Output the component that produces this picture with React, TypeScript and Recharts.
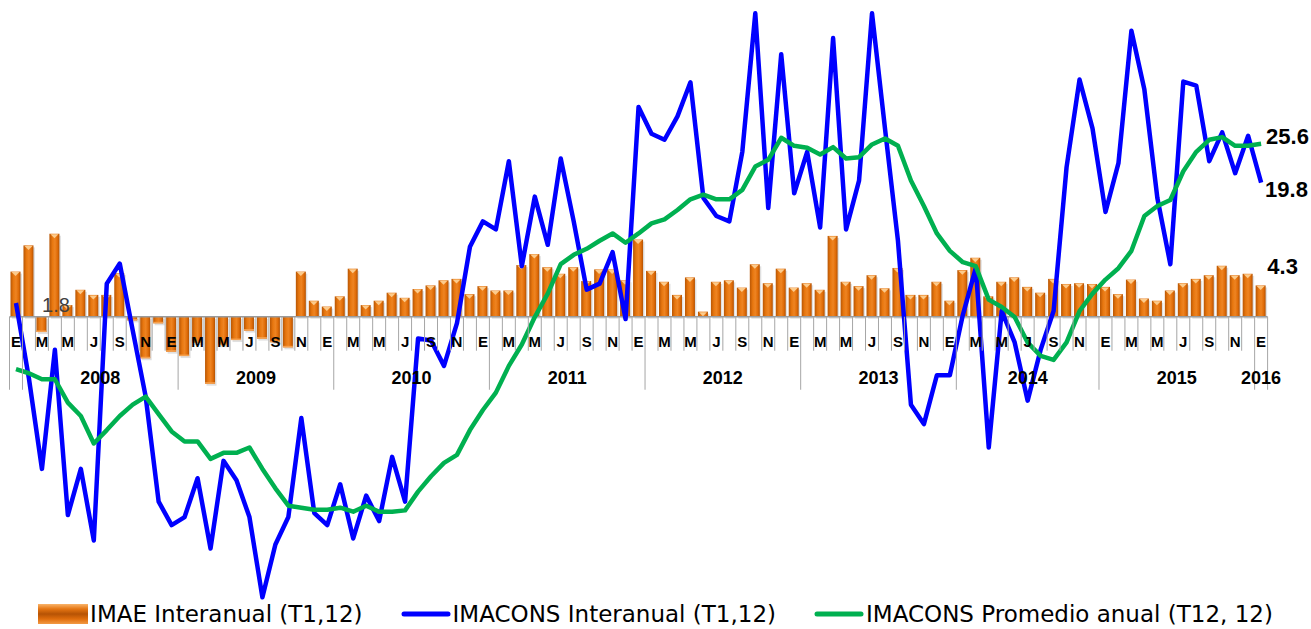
import React from 'react';
import { ComposedChart, Bar, Line, XAxis, YAxis, ReferenceLine, Legend } from 'recharts';

// ---------------- DATA ----------------
const monthLetters = ['E', 'F', 'M', 'A', 'M', 'J', 'J', 'A', 'S', 'O', 'N', 'D'];
// year group labels and the month index where each group starts (Jan 2008 = 0)
const yearGroupLabels = ['', '2008', '2009', '2010', '2011', '2012', '2013', '2014', '2015', '2016'];
const yearGroupStarts = [0, 1, 13, 25, 37, 49, 61, 73, 84, 96];

const seriesNames = ['IMAE Interanual (T1,12)', 'IMACONS Interanual (T1,12)', 'IMACONS Promedio anual (T12, 12)'];

const imaeInteranual = [
  6.2, 9.8, -2.1, 11.4, 1.6, 3.7, 3.0, 3.0, 6.0, -0.5, -5.7, -0.9,
  -4.8, -5.4, -3.6, -9.2, -3.9, -3.2, -1.9, -3.0, -3.5, -4.2, 6.2, 2.2,
  1.4, 2.8, 6.6, 1.6, 2.2, 3.3, 2.6, 3.8, 4.3, 5.0, 5.2, 3.1,
  4.2, 3.6, 3.6, 7.1, 8.6, 6.8, 5.9, 6.8, 4.9, 6.5, 6.5, 5.0,
  10.6, 6.3, 4.8, 3.0, 5.4, 0.7, 4.8, 5.0, 4.0, 7.2, 4.6, 6.6,
  4.0, 4.6, 3.7, 11.1, 4.8, 4.2, 5.7, 3.9, 6.7, 3.0, 3.0, 4.8,
  2.2, 6.4, 8.1, 2.8, 4.8, 5.4, 4.1, 3.3, 5.2, 4.5, 4.6, 4.5,
  4.1, 3.1, 5.1, 2.5, 2.2, 3.6, 4.6, 5.2, 5.7, 7.0, 5.7, 5.9,
  4.3,
];

const imaconsInteranual = [
  1.8, -9.5, -23.0, -5.2, -29.9, -23.0, -33.7, 4.7, 7.7, -2.3, -12.2, -27.9,
  -31.4, -30.2, -24.4, -34.9, -21.8, -24.7, -30.2, -42.2, -34.3, -30.2, -15.4, -29.6,
  -31.4, -25.3, -33.4, -27.0, -30.8, -21.2, -27.9, -3.5, -3.8, -7.6, -1.2, 10.2,
  14.0, 12.8, 23.0, 7.3, 17.7, 10.5, 23.4, 14.0, 3.8, 4.7, 9.4, -0.6,
  31.1, 27.1, 26.2, 29.7, 34.8, 17.5, 14.8, 14.0, 24.4, 45.1, 16.0, 39.0,
  18.2, 24.4, 13.1, 41.4, 12.8, 20.1, 45.1, 27.9, 11.1, -13.4, -16.3, -9.0,
  -9.0, 0.0, 7.0, -19.8, 0.6, -4.1, -12.8, -5.2, 0.6, 22.1, 35.2, 27.9,
  15.4, 22.7, 42.5, 33.7, 17.5, 7.6, 34.9, 34.3, 23.0, 27.3, 21.2, 26.8,
  19.8,
];

const imaconsPromedio = [
  -8.1, -8.7, -9.6, -9.6, -13.1, -15.1, -19.2, -17.2, -15.1, -13.4, -12.2, -14.8,
  -17.4, -18.9, -18.9, -21.5, -20.6, -20.6, -19.8, -23.0, -25.9, -28.5, -28.8, -29.1,
  -29.1, -28.8, -29.4, -28.5, -29.4, -29.4, -29.2, -26.4, -24.1, -22.1, -20.9, -17.2,
  -14.2, -11.6, -7.6, -4.4, -0.3, 3.2, 7.6, 9.0, 9.9, 11.1, 12.2, 10.8,
  12.2, 13.7, 14.3, 15.7, 17.3, 18.0, 17.3, 17.3, 18.7, 22.2, 23.2, 26.5,
  25.3, 25.0, 24.0, 25.1, 23.4, 23.6, 25.5, 26.4, 25.3, 20.1, 16.3, 12.2,
  9.6, 7.9, 7.3, 2.3, 1.2, -0.3, -4.1, -6.1, -6.7, -4.1, 0.6, 3.2,
  5.3, 7.0, 9.6, 14.8, 16.3, 17.2, 21.5, 24.4, 26.2, 26.6, 25.3, 25.3,
  25.6,
];

const data = imaeInteranual.map((v, i) => ({
  idx: i,
  imae: v,
  blue: imaconsInteranual[i],
  green: imaconsPromedio[i],
}));

// ---------------- LAYOUT ----------------
const W = 1311;
const H = 629;
const M_LEFT = 9.5;
const M_RIGHT = 43.4;
const M_TOP = 8;
const M_BOTTOM = 28;
const X_AXIS_H = 1;
const PLOT_TOP = M_TOP;
const PLOT_BOTTOM = H - M_BOTTOM - X_AXIS_H;
const BAND = (W - M_LEFT - M_RIGHT) / data.length;
const BAR_DOMAIN: [number, number] = [-38.9, 42.4];
const LINE_DOMAIN: [number, number] = [-42.6, 45.9];
const ZERO_Y = PLOT_TOP + (BAR_DOMAIN[1] / (BAR_DOMAIN[1] - BAR_DOMAIN[0])) * (PLOT_BOTTOM - PLOT_TOP);
const LAST = data.length - 1;

const AX_FONT = "'Liberation Sans', Arial, sans-serif";
const LEG_FONT = "'DejaVu Sans', sans-serif";

const MonthTick = (props: any) => {
  const { x, payload } = props;
  const i = Number(payload.value);
  const m = i % 12;
  const left = x - BAND / 2;
  const gi = yearGroupStarts.indexOf(i);
  const isStart = gi >= 0;
  const els: any[] = [];
  els.push(
    <line key="s" x1={left} x2={left} y1={ZERO_Y} y2={ZERO_Y + (isStart ? 73 : 34)} stroke="#A6A6A6" strokeWidth={1} />
  );
  if (i === LAST) {
    els.push(<line key="e" x1={left + BAND} x2={left + BAND} y1={ZERO_Y} y2={ZERO_Y + 73} stroke="#A6A6A6" strokeWidth={1} />);
  }
  if (m % 2 === 0) {
    els.push(
      <text key="m" x={x} y={ZERO_Y + 30} textAnchor="middle" fontFamily={AX_FONT} fontWeight="bold" fontSize={15} fill="#000">
        {monthLetters[m]}
      </text>
    );
  }
  if (isStart && yearGroupLabels[gi]) {
    const end = gi + 1 < yearGroupStarts.length ? yearGroupStarts[gi + 1] - 1 : LAST;
    const cx = x + ((end - i) / 2) * BAND;
    els.push(
      <text key="y" x={cx} y={ZERO_Y + 67} textAnchor="middle" fontFamily={AX_FONT} fontWeight="bold" fontSize={18} fill="#000">
        {yearGroupLabels[gi]}
      </text>
    );
  }
  return <g>{els}</g>;
};

const BevelBar = (props: any) => {
  const { x, y, width, height, value } = props;
  if (!height) return null;
  const top = height < 0 ? y + height : y;
  const h = Math.abs(height);
  const pos = (Array.isArray(value) ? value[1] - value[0] : value) >= 0;
  const cx = x + width / 2;
  return (
    <g>
      <rect x={x + 1.5} y={top + 2} width={width} height={h} fill="#000" opacity={0.12} />
      <rect x={x} y={top} width={width} height={h} fill="url(#barGrad)" />
      {pos ? (
        <polygon points={`${x + 1},${top + 0.5} ${x + width - 1},${top + 0.5} ${cx},${top + 4.5}`} fill="#FCCB8C" />
      ) : (
        <rect x={x} y={top + h - 1.5} width={width} height={1.5} fill="#F6A04D" />
      )}
    </g>
  );
};

const renderBarLabel = (p: any) => {
  const { x, y, width, index, value } = p;
  if (index !== LAST) return null;
  return (
    <text x={x + width / 2 + 6.7} y={y - 19.4} dominantBaseline="central" fontFamily={AX_FONT} fontWeight="bold" fontSize={22} fill="#000">
      {Number(value).toFixed(1)}
    </text>
  );
};

const renderBlueLabel = (p: any) => {
  const { x, y, index, value } = p;
  if (index === 0) {
    return (
      <text x={x + 40} y={y + 2} textAnchor="middle" dominantBaseline="central" fontFamily={AX_FONT} fontSize={20} fill="#404040">
        {Number(value).toFixed(1)}
      </text>
    );
  }
  if (index === LAST) {
    return (
      <text x={x + 4} y={y + 6.7} dominantBaseline="central" fontFamily={AX_FONT} fontWeight="bold" fontSize={22} fill="#000">
        {Number(value).toFixed(1)}
      </text>
    );
  }
  return null;
};

const renderGreenLabel = (p: any) => {
  const { x, y, index, value } = p;
  if (index !== LAST) return null;
  return (
    <text x={x + 5} y={y - 7.4} dominantBaseline="central" fontFamily={AX_FONT} fontWeight="bold" fontSize={22} fill="#000">
      {Number(value).toFixed(1)}
    </text>
  );
};

const renderLegend = () => (
  <div
    style={{
      display: 'flex',
      justifyContent: 'center',
      alignItems: 'center',
      gap: 38,
      fontFamily: LEG_FONT,
      fontSize: 23,
      color: '#000',
      whiteSpace: 'nowrap',
    }}
  >
    <span style={{ display: 'flex', alignItems: 'center' }}>
      <svg width={50} height={20} style={{ marginRight: 2 }}>
        <defs>
          <linearGradient id="legBarGrad" x1="0" y1="0" x2="0" y2="1">
            <stop offset="0%" stopColor="#F9B46A" />
            <stop offset="25%" stopColor="#E57512" />
            <stop offset="50%" stopColor="#B65305" />
            <stop offset="75%" stopColor="#E06D0C" />
            <stop offset="100%" stopColor="#F29A45" />
          </linearGradient>
        </defs>
        <rect x={0} y={0} width={50} height={20} fill="url(#legBarGrad)" />
      </svg>
      <span>{seriesNames[0]}</span>
    </span>
    <span style={{ display: 'flex', alignItems: 'center' }}>
      <svg width={50} height={20} style={{ marginRight: 2 }}>
        <line x1={3} x2={47} y1={10} y2={10} stroke="#0000FF" strokeWidth={5} strokeLinecap="round" />
      </svg>
      <span>{seriesNames[1]}</span>
    </span>
    <span style={{ display: 'flex', alignItems: 'center' }}>
      <svg width={50} height={20} style={{ marginRight: 2 }}>
        <line x1={3} x2={47} y1={10} y2={10} stroke="#00B050" strokeWidth={5} strokeLinecap="round" />
      </svg>
      <span>{seriesNames[2]}</span>
    </span>
  </div>
);

export default function App() {
  return (
    <div style={{ position: 'absolute', left: 0, top: 0, width: W, height: H, background: '#fff' }}>
      <ComposedChart
        width={W}
        height={H}
        data={data}
        margin={{ top: M_TOP, right: M_RIGHT, bottom: M_BOTTOM, left: M_LEFT }}
        barCategoryGap={0}
      >
        <defs>
          <linearGradient id="barGrad" x1="0" y1="0" x2="1" y2="0">
            <stop offset="0%" stopColor="#B85604" />
            <stop offset="30%" stopColor="#E8770F" />
            <stop offset="55%" stopColor="#EE8422" />
            <stop offset="80%" stopColor="#E06C08" />
            <stop offset="100%" stopColor="#B35203" />
          </linearGradient>
        </defs>
        <XAxis
          dataKey="idx"
          type="category"
          interval={0}
          axisLine={false}
          tickLine={false}
          height={X_AXIS_H}
          tick={MonthTick}
        />
        <YAxis yAxisId="bar" hide type="number" domain={BAR_DOMAIN} allowDataOverflow />
        <YAxis yAxisId="line" hide type="number" orientation="right" domain={LINE_DOMAIN} allowDataOverflow />
        <ReferenceLine yAxisId="bar" y={0} stroke="#9A9A9A" strokeWidth={1.5} />
        <Bar
          yAxisId="bar"
          dataKey="imae"
          name={seriesNames[0]}
          barSize={10}
          shape={<BevelBar />}
          isAnimationActive={false}
          label={renderBarLabel}
        />
        <Line
          yAxisId="line"
          dataKey="blue"
          name={seriesNames[1]}
          stroke="#0000FF"
          strokeWidth={4.5}
          strokeLinejoin="round"
          dot={false}
          activeDot={false}
          isAnimationActive={false}
          label={renderBlueLabel}
        />
        <Line
          yAxisId="line"
          dataKey="green"
          name={seriesNames[2]}
          stroke="#00B050"
          strokeWidth={4.5}
          strokeLinejoin="round"
          dot={false}
          activeDot={false}
          isAnimationActive={false}
          label={renderGreenLabel}
        />
        <Legend
          verticalAlign="middle"
          align="center"
          layout="horizontal"
          content={renderLegend}
          wrapperStyle={{ top: 601, left: 0, width: W, height: 26 }}
        />
      </ComposedChart>
    </div>
  );
}
